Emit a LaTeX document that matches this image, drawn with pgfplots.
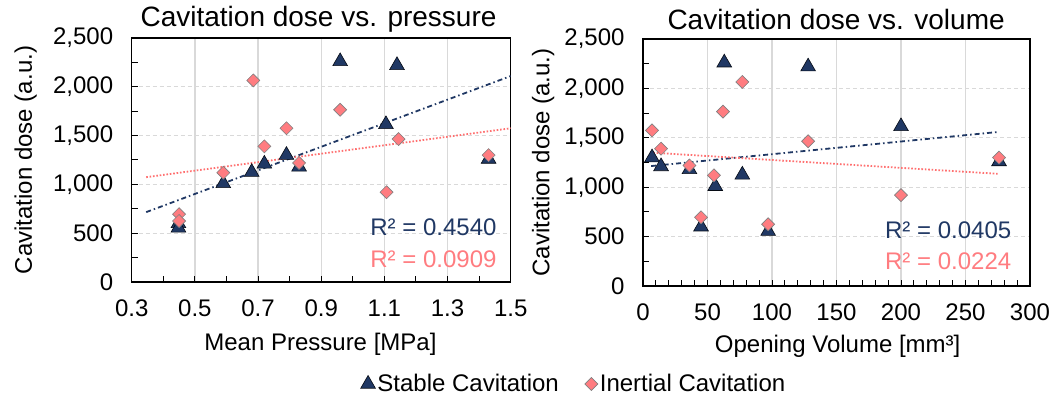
\documentclass[border=0pt]{standalone}
\usepackage{fontspec}
\setmainfont{Liberation Sans}
\usepackage{pgfplots}
\usepackage{pgfplotstable}
\pgfplotsset{compat=1.18}
\definecolor{navy}{HTML}{203864}
\definecolor{salmon}{HTML}{FF7C80}
\definecolor{trendred}{HTML}{FF7070}
\definecolor{gridc}{HTML}{D9D9D9}
\newcommand\fs{\fontsize{24bp}{28bp}\selectfont}
\newcommand\fst{\fontsize{28bp}{33bp}\selectfont}

\pgfplotstableread{
p v d
0.79 7 1300
0.72 14 1210
0.83 36 1180
0.448 45 600
0.59 56 1010
0.96 63 2260
0.68 77 1125
0.448 97 555
1.14 128 2220
1.105 200 1615
1.43 276 1260
}\stable
\pgfplotstableread{
p v d
0.79 7 1575
0.72 14 1390
0.83 36 1220
0.45 45 695
0.59 55 1120
0.96 62 1765
0.685 77 2065
0.45 97 625
1.145 128 1465
1.107 200 920
1.43 276 1300
}\inertial

\pgfplotsset{
 mystyle/.style={
  scale only axis,
  axis line style={line width=1.4bp, black},
  tick pos=left, tick align=inside,
  major tick length=6bp, minor tick length=6bp,
  tick style={black, line width=1bp},
  xmajorgrids, ymajorgrids,
  x grid style={gridc, line width=1.3bp},
  y grid style={gridc, line width=1.3bp, dash pattern=on 4bp off 3bp},
  ymin=0, ymax=2500, ytick={0,500,1000,1500,2000,2500}, minor y tick num=1,
  tick label style={font=\fs},
  label style={font=\fs},
  title style={font=\fst, anchor=base},
  /pgf/number format/assume math mode=true,
  yticklabel style={/pgf/number format/1000 sep={,}, xshift=-15bp},
  xticklabel style={yshift=-14bp},
 },
 stab/.style={only marks, mark=triangle*, mark size=8.5bp, mark options={fill=navy, draw=black!80!navy, line width=0.6bp}},
 inert/.style={only marks, mark=square*, mark size=4.6bp, mark options={rotate=45, fill=salmon, draw=gray, line width=0.6bp}},
 bluetrend/.style={navy, line width=1.8bp, dash pattern=on 5bp off 3bp on 1.5bp off 3bp},
 redtrend/.style={trendred, line width=1.8bp, dash pattern=on 1.6bp off 1.8bp},
}

\begin{document}
\begin{tikzpicture}
\path[use as bounding box] (0,0) rectangle (1052bp,398bp);
\begin{axis}[mystyle,
  at={(131.7bp,116bp)}, anchor=south west,
  width=379bp, height=244bp,
  xmin=0.3, xmax=1.5, xtick={0.3,0.5,0.7,0.9,1.1,1.3,1.5}, minor x tick num=1,
  xticklabel style={/pgf/number format/fixed, /pgf/number format/fixed zerofill, /pgf/number format/precision=1},
  title={Cavitation dose vs. pressure},
  title style={at={(axis description cs:0.493,1.022)}},
  xlabel={Mean Pressure [MPa]},
  ylabel={Cavitation dose (a.u.)},
  xlabel style={at={(axis description cs:0.498,-0.255)}, anchor=center},
  ylabel style={at={(axis description cs:-0.28,0.5)}, anchor=center},
  legend style={at={(axis description cs:1.167,-0.418)}, anchor=center, draw=none, fill=none, font=\fs, legend columns=2, /tikz/every even column/.append style={column sep=24bp}},
  legend cell align=left,
]
\addplot[stab] table[x=p,y=d]{\stable};
\addlegendentry{Stable Cavitation}
\addplot[inert] table[x=p,y=d]{\inertial};
\addlegendentry{Inertial Cavitation}
\addplot[bluetrend, forget plot] coordinates {(0.346,716) (1.5,2110)};
\addplot[redtrend, forget plot] coordinates {(0.346,1074) (1.5,1575)};
\node[anchor=east, inner sep=0, text=navy, font=\fs] at (rel axis cs:0.963,0.225) {R² = 0.4540};
\node[anchor=east, inner sep=0, text=salmon, font=\fs] at (rel axis cs:0.963,0.094) {R² = 0.0909};
\end{axis}
\begin{axis}[mystyle,
  at={(643bp,112bp)}, anchor=south west,
  width=387bp, height=247bp,
  xmin=0, xmax=300, xtick={0,50,100,150,200,250,300}, minor x tick num=4,
  title={Cavitation dose vs. volume},
  title style={at={(axis description cs:0.499,1.016)}},
  xlabel={Opening Volume [mm³]},
  ylabel={Cavitation dose (a.u.)},
  xlabel style={at={(axis description cs:0.503,-0.245)}, anchor=center},
  ylabel style={at={(axis description cs:-0.258,0.5)}, anchor=center},
]
\addplot[stab] table[x=v,y=d]{\stable};
\addplot[inert] table[x=v,y=d]{\inertial};
\addplot[bluetrend] coordinates {(6.3,1214) (276,1560)};
\addplot[redtrend] coordinates {(8,1349) (276,1135)};
\node[anchor=east, inner sep=0, text=navy, font=\fs] at (rel axis cs:0.952,0.227) {R² = 0.0405};
\node[anchor=east, inner sep=0, text=salmon, font=\fs] at (rel axis cs:0.952,0.10) {R² = 0.0224};
\end{axis}
\end{tikzpicture}
\end{document}
